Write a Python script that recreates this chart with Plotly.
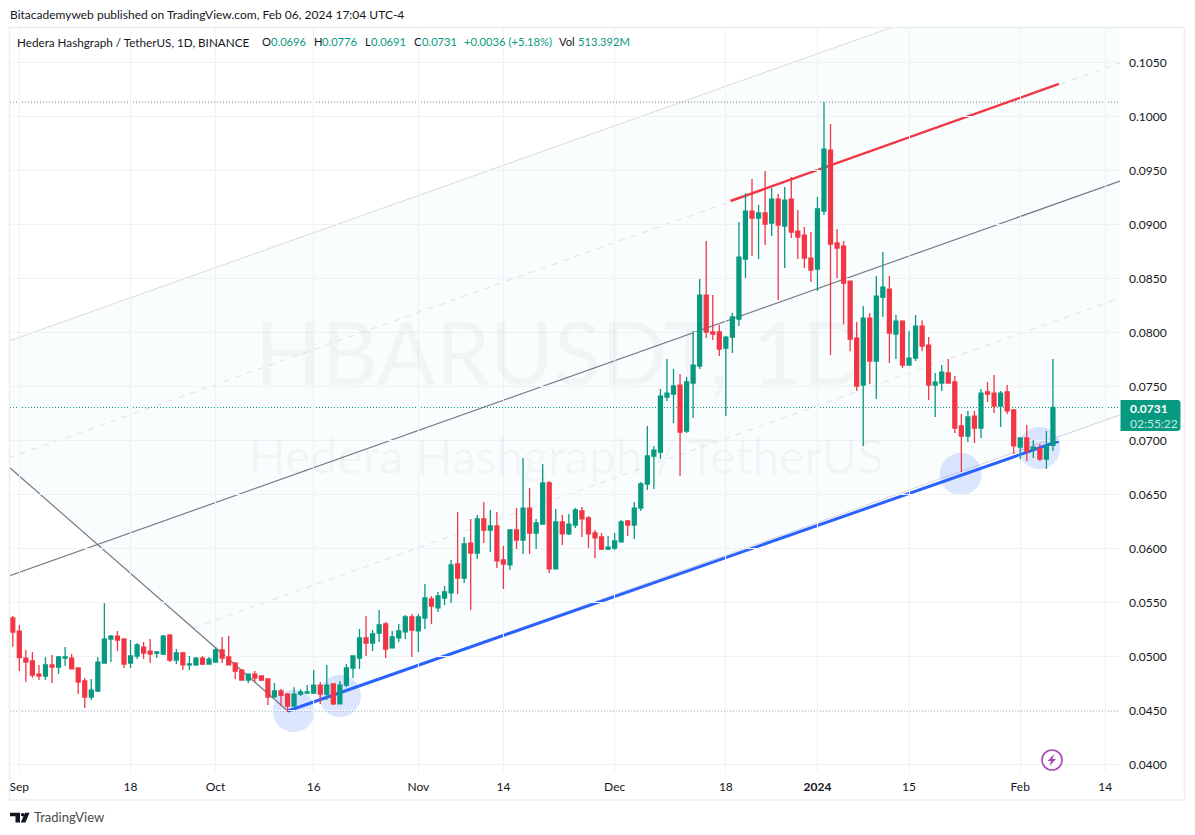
import pandas as pd
import plotly.graph_objects as go

W, H = 1195, 835
PL, PR, PT, PB = 10, 1120.5, 28, 772

DATES = pd.date_range("2023-08-31", periods=160, freq="D")

OPEN = [.05361,.05240,.04990,.04963,.04842,.04824,.04926,.04907,.04990,.04990,.04898,.04778,.04629,.04685,.04944,.05166,.05194,.05166,.04944,.05009,.05092,.05055,.05037,.05027,.05203,.04972,.05037,.04926,.04926,.04990,.04935,.04953,.05065,.05000,.04944,.04879,.04787,.04842,.04824,.04796,.04629,.04685,.04657,.04546,.04657,.04666,.04666,.04740,.04657,.04750,.04565,.04740,.04898,.04990,.05176,.05129,
 .05222,.05306,.05084,.05176,.05232,.05371,.05241,.05361,.05537,.05454,.05546,.05593,.05861,.05731,.06055,.05963,.06278,.06176,.06213,.05898,.05852,.06176,.06083,.06379,.06148,.06231,.06611,.05815,.06250,.06139,.06222,.06352,.06287,.06148,.06111,.06000,.06009,.06065,.06259,.06222,.06379,.06601,.06861,.06898,.07407,.07435,.07518,.07092,.07536,.07694,.08351,.08009,.08009,.07861,.07962,.08129,.08685,.09129,.09064,.09111,.09018,.09240,.08990,.09240,.08944,.08907,.08694,.08592,.09129,.09694,.08833,.08805,.08480,.07953,.07518,.08138,.07740,.08332,.08406,.07990,.08110,.07703,.07768,.08064,.07888,.07518,.07536,.07630,.07546,.07139,.07046,.07231,.07120,.07454,.07444,.07324,.07454,.07287,.06944,.07028,.06926,.06926,.06833,.0696]

CLOSE = [.05231,.04994,.04953,.04833,.04824,.04926,.04907,.05000,.05000,.04889,.04768,.04629,.04694,.04953,.05166,.05194,.05157,.04935,.05009,.05111,.05037,.05027,.05046,.05194,.04972,.05037,.04926,.04935,.04990,.04935,.04981,.05065,.04990,.04926,.04870,.04787,.04842,.04805,.04787,.04629,.04685,.04645,.04546,.04657,.04676,.04676,.04740,.04657,.04740,.04565,.04740,.04898,.05009,.05176,.05129,.05213,
 .05296,.05074,.05185,.05241,.05371,.05250,.05371,.05546,.05472,.05565,.05602,.05852,.05731,.06046,.05963,.06278,.06176,.06213,.05889,.05861,.06176,.06083,.06379,.06148,.06241,.06611,.05815,.06250,.06139,.06231,.06361,.06278,.06139,.06102,.06000,.06018,.06074,.06250,.06222,.06379,.06602,.06861,.06916,.07416,.07444,.07509,.07083,.07546,.07703,.08351,.08009,.07990,.07851,.07962,.08148,.08703,.09129,.09064,.09111,.09009,.09240,.09000,.09231,.08935,.08888,.08694,.08583,.09148,.09703,.08824,.08786,.08462,.07943,.07508,.08138,.07740,.08342,.08425,.07999,.08110,.07703,.07768,.08064,.07879,.07518,.07545,.07638,.07537,.07120,.07046,.07222,.07120,.07444,.07435,.07324,.07444,.07278,.06954,.07028,.06907,.06944,.06833,.06954,.0731]

HIGH = [.05380,.05296,.05065,.05046,.04926,.05000,.05018,.05009,.05092,.05027,.04904,.04805,.04796,.05000,.05497,.05203,.05240,.05176,.05157,.05129,.05139,.05166,.05055,.05203,.05213,.05074,.05046,.05009,.05000,.05009,.05000,.05092,.05185,.05194,.04953,.04889,.04842,.04870,.04824,.04796,.04759,.04703,.04666,.04719,.04703,.04740,.04879,.04768,.04926,.04750,.04778,.04935,.05009,.05259,.05380,.05250,
 .05435,.05324,.05241,.05306,.05389,.05398,.05398,.05676,.05565,.05602,.05657,.05898,.06342,.06111,.06278,.06315,.06435,.06361,.06342,.06028,.06185,.06379,.06842,.06565,.06278,.06787,.06629,.06370,.06315,.06324,.06379,.06389,.06305,.06176,.06148,.06120,.06148,.06268,.06268,.06435,.06620,.07138,.06953,.07481,.07759,.07666,.07620,.07592,.08018,.08499,.08851,.08351,.08073,.07972,.08185,.09027,.09293,.09425,.09185,.09500,.09342,.09286,.09351,.09444,.09138,.08981,.08935,.09259,.10138,.09935,.08962,.08851,.08480,.08101,.08249,.08184,.08527,.08749,.08527,.08166,.08119,.08018,.08166,.08119,.07962,.07629,.07703,.07759,.07602,.07250,.07278,.07278,.07481,.07546,.07611,.07463,.07518,.07296,.07028,.07148,.07009,.06972,.07093,.0776]

LOW = [.05095,.04870,.04771,.04808,.04787,.04787,.04759,.04842,.04916,.04889,.04657,.04528,.04602,.04676,.04944,.04953,.05055,.04898,.04898,.04981,.04981,.04944,.04990,.05018,.04953,.04935,.04879,.04879,.04916,.04926,.04935,.04953,.04944,.04926,.04796,.04787,.04759,.04768,.04778,.04555,.04629,.04546,.04491,.04546,.04639,.04657,.04657,.04565,.04602,.04555,.04565,.04722,.04805,.04889,.05009,.05055,
 .05139,.04991,.05084,.05139,.05167,.05000,.05047,.05260,.05306,.05417,.05481,.05500,.05583,.05685,.05435,.05907,.06055,.05972,.05824,.05629,.05805,.06000,.05954,.05954,.06000,.06231,.05778,.05815,.06037,.06129,.06194,.06111,.06009,.05917,.05991,.05991,.05991,.06065,.06120,.06092,.06352,.06546,.06555,.06833,.07370,.07166,.06675,.07074,.07212,.07666,.07953,.07935,.07786,.07231,.07814,.08064,.08509,.08712,.08685,.08814,.08898,.08305,.08601,.08879,.08685,.08601,.08472,.08388,.09092,.07796,.08509,.08082,.07832,.07462,.06953,.07527,.07388,.08147,.07721,.07758,.07675,.07703,.07740,.07832,.07379,.07221,.07462,.07537,.07074,.06713,.06991,.06981,.07028,.07361,.07259,.07129,.07250,.06880,.06833,.06815,.06843,.06815,.06741,.0691]

assert len(OPEN) == len(CLOSE) == len(HIGH) == len(LOW) == len(DATES), (len(OPEN), len(CLOSE), len(HIGH), len(LOW))

Y_TICKS = [0.04 + 0.005 * i for i in range(14)]
X_TICK_DATES = ["2023-09-01","2023-09-18","2023-10-01","2023-10-16","2023-11-01","2023-11-14","2023-12-01","2023-12-18","2024-01-01","2024-01-15","2024-02-01","2024-02-14"]
X_TICK_TEXT = ["Sep","18","Oct","16","Nov","14","Dec","18","<b>2024</b>","15","Feb","14"]

X_START = "2023-08-30 13:48"
X_END = "2024-02-16 06:00"
Y_MIN, Y_MAX = 0.03935, 0.10824

# Drawn levels and trend lines: (date, price)
HIGH_LEVEL, LOW_LEVEL, LAST_PRICE = 0.10138, 0.0450, 0.0731
BLUE_LINE = [("2023-10-12 01:00", 0.0450), ("2024-02-06 22:00", 0.0700)]
RED_LINE = [("2023-12-18 17:00", 0.09222), ("2024-02-06 22:00", 0.10306)]
UPPER_LINE = [("2023-08-30 10:00", 0.07926), ("2024-02-16 06:00", 0.11581)]
UPPER_MID_LINE = [("2023-08-30 10:00", 0.06843), ("2024-02-16 06:00", 0.1050)]
MEDIAN_LINE = [("2023-08-30 10:00", 0.0575), ("2024-02-16 06:00", 0.09407)]
LOWER_MID_LINE = [("2023-09-27 14:00", 0.05269), ("2024-02-16 06:00", 0.08324)]
LOWER_LINE = [("2023-10-12 01:00", 0.0450), ("2024-02-16 06:00", 0.07241)]
HANDLE_LINE = [("2023-08-30 10:00", 0.06759), ("2023-10-12 01:00", 0.0450)]
# touch markers: centre date, centre price
TOUCHES = [("2023-10-12 23:00", 0.04500), ("2023-10-20 00:00", 0.04639), ("2024-01-22 22:00", 0.06694), ("2024-02-03 22:00", 0.06935)]

GREEN, RED = "#089981", "#F23645"
GRID = "#f0f1f4"
FONT = "Lato"
TEXT = "#131722"


def pxx(x):
    return (x - PL) / (PR - PL)


def pxy(y):
    return (PB - y) / (PB - PT)


def seg(line, color, width=1, dash="solid"):
    (x0, y0), (x1, y1) = line
    return dict(type="line", xref="x", yref="y", x0=x0, y0=y0, x1=x1, y1=y1,
                layer="below", line=dict(color=color, width=width, dash=dash))


def dpath(points):
    return "M " + " L ".join(f"{d.replace(' ', '_')} {p}" for d, p in points) + " Z"


def ppath(points, close=True):
    return "M " + " L ".join(f"{pxx(x):.5f} {pxy(y):.5f}" for x, y in points) + (" Z" if close else "")


shapes = []
# channel background
shapes.append(dict(type="path", xref="x", yref="y", layer="below", line=dict(width=0),
                   fillcolor="rgba(8,153,129,0.018)",
                   path=dpath([UPPER_LINE[0], UPPER_LINE[1], LOWER_LINE[1], LOWER_LINE[0], HANDLE_LINE[0]])))
shapes.append(seg(UPPER_LINE, "#d9dadd"))
shapes.append(seg(UPPER_MID_LINE, "#e0e1e6", 1, "6px,6px"))
shapes.append(seg(MEDIAN_LINE, "#787b86", 1.2))
shapes.append(seg(LOWER_MID_LINE, "#e0e1e6", 1, "6px,6px"))
shapes.append(seg(LOWER_LINE, "#d1d4dc", 1))
shapes.append(seg(HANDLE_LINE, "#787b86", 1.2))
for lvl, col in [(HIGH_LEVEL, "#787b86"), (LOW_LEVEL, "#787b86"), (LAST_PRICE, GREEN)]:
    shapes.append(seg([(X_START, lvl), (X_END, lvl)], col, 1, "1px,2px"))
for d, p in TOUCHES:
    t = pd.Timestamp(d)
    r = pd.Timedelta(hours=77)
    shapes.append(dict(type="circle", xref="x", yref="y", layer="below", line=dict(width=0),
                       fillcolor="rgba(41,98,255,0.16)",
                       x0=str(t - r), x1=str(t + r), y0=p - 0.00196, y1=p + 0.00196))
shapes.append(seg(RED_LINE, RED, 2.5))
shapes.append(seg(BLUE_LINE, "#2962FF", 3))
# frame
shapes.append(dict(type="rect", xref="paper", yref="paper", x0=pxx(9.5), x1=pxx(1185), y0=pxy(800), y1=pxy(27.5),
                   line=dict(color="#eceded", width=1.5), layer="above"))
# last price badge
shapes.append(dict(type="path", xref="paper", yref="paper", layer="above", line=dict(width=0), fillcolor=GREEN,
                   path=ppath([(1121, 400), (1179, 400), (1181, 402), (1181, 429), (1179, 431), (1121, 431)])))
# TradingView logo
shapes.append(dict(type="path", xref="paper", yref="paper", layer="above", line=dict(width=0), fillcolor="#131722",
                   path=ppath([(10, 812.7), (20, 812.7), (20, 822.6), (15.5, 822.6), (15.5, 816.2), (10, 816.2)])))
shapes.append(dict(type="path", xref="paper", yref="paper", layer="above", line=dict(width=0), fillcolor="#131722",
                   path=ppath([(25, 812.7), (29.5, 812.7), (25.5, 822.6), (20.8, 822.6)])))
shapes.append(dict(type="circle", xref="paper", yref="paper", layer="above", line=dict(width=0), fillcolor="#131722",
                   x0=pxx(20.8), x1=pxx(24.4), y0=pxy(816.6), y1=pxy(813)))
# lightning badge
shapes.append(dict(type="circle", xref="paper", yref="paper", layer="above", fillcolor="white",
                   line=dict(color="#ab47bc", width=1.6), x0=pxx(1042.5), x1=pxx(1062.5), y0=pxy(770), y1=pxy(750)))
shapes.append(dict(type="path", xref="paper", yref="paper", layer="above", line=dict(width=0), fillcolor="#ab47bc",
                   path=ppath([(1054.5, 754), (1048, 761), (1051.5, 761), (1050, 766), (1056.5, 759), (1053, 759)])))


def note(x, y, text, size=12, color=TEXT, anchor="left", **kw):
    return dict(xref="paper", yref="paper", x=pxx(x), y=pxy(y), text=text, showarrow=False, xanchor=anchor,
                yanchor="middle", align="left", font=dict(family=FONT, size=size, color=color), **kw)


LEGEND_NAME = "Hedera Hashgraph / TetherUS, 1D, BINANCE"
annotations = [
    note(8, 14, "Bitacademyweb published on TradingView.com, Feb 06, 2024 17:04 UTC-4", 12),
    note(15, 41.5, LEGEND_NAME, 11.7),
]
for x, lab, col in [(260, "O", TEXT), (269.5, "0.0696", GREEN), (312, "H", TEXT), (320.5, "0.0776", GREEN),
                    (363, "L", TEXT), (369, "0.0691", GREEN), (412, "C", TEXT), (420, "0.0731", GREEN),
                    (462, "+0.0036 (+5.18%)", GREEN), (557, "Vol", TEXT), (576, "513.392M", GREEN)]:
    annotations.append(note(x, 41.5, lab, 11.2, col))
annotations += [
    note(1129, 408, "<b>0.0731</b>", 12, "white"),
    note(1129, 423, "02:55:22", 12, "rgba(255,255,255,0.8)"),
    note(32, 817, "TradingView", 13, "#4a4a4a"),
    note(562, 352, "HBARUSDT, 1D", 87, "rgba(19,23,52,0.035)", "center"),
    note(566, 456, "Hedera Hashgraph / TetherUS", 48, "rgba(19,23,52,0.035)", "center"),
]

fig = go.Figure(go.Candlestick(
    x=DATES, open=OPEN, high=HIGH, low=LOW, close=CLOSE, whiskerwidth=0, hoverinfo="skip",
    increasing=dict(line=dict(color=GREEN, width=1.3), fillcolor=GREEN),
    decreasing=dict(line=dict(color=RED, width=1.3), fillcolor=RED),
    showlegend=False,
))
fig.update_layout(
    width=W, height=H, autosize=False, paper_bgcolor="white", plot_bgcolor="white", showlegend=False,
    margin=dict(l=PL, r=W - PR, t=PT, b=H - PB, pad=0),
    boxmode="overlay", boxgap=0.4, boxgroupgap=0,
    font=dict(family=FONT, size=12, color=TEXT),
    shapes=shapes, annotations=annotations,
    xaxis=dict(type="date", range=[X_START, X_END], rangeslider=dict(visible=False), tickmode="array",
               tickvals=X_TICK_DATES, ticktext=X_TICK_TEXT, showgrid=True, gridcolor=GRID, gridwidth=1,
               zeroline=False, showline=False, ticks="", ticklabelstandoff=6, tickangle=0,
               tickfont=dict(family=FONT, size=12, color=TEXT)),
    yaxis=dict(range=[Y_MIN, Y_MAX], side="right", tickmode="array", tickvals=Y_TICKS,
               ticktext=[f"{v:.4f}" for v in Y_TICKS], showgrid=True, gridcolor=GRID, gridwidth=1,
               zeroline=False, showline=False, ticks="", ticklabelstandoff=8,
               tickfont=dict(family=FONT, size=12, color=TEXT)),
)
fig.write_html("out.html", config=dict(displayModeBar=False),
               post_script="document.body.style.margin='0';document.body.style.overflow='hidden';")
